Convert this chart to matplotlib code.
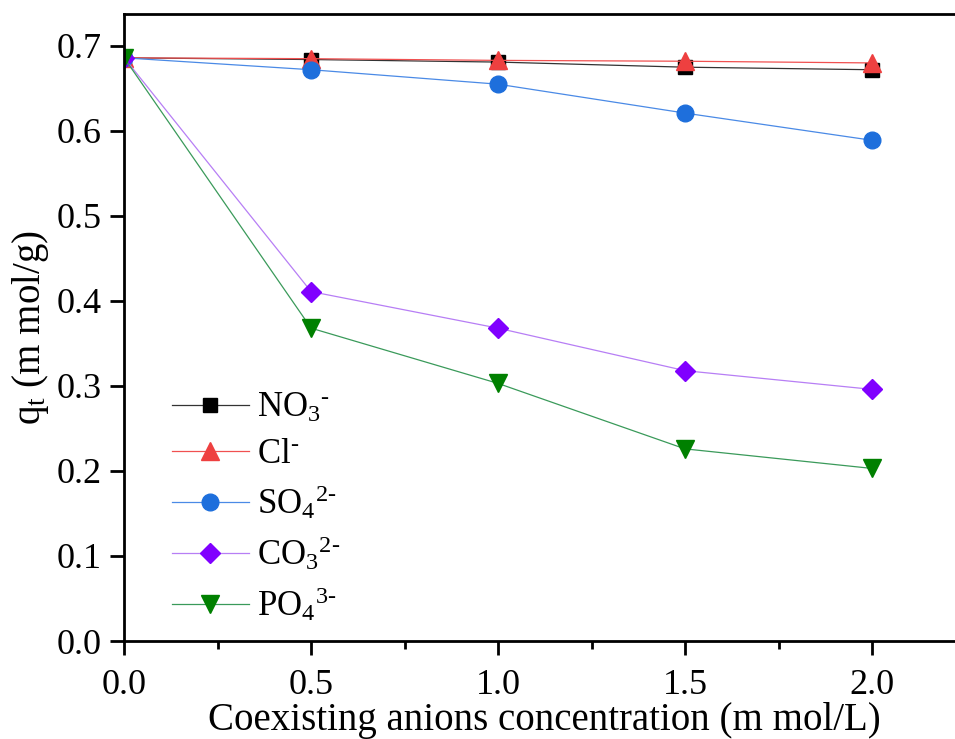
import matplotlib
matplotlib.use('Agg')
import matplotlib.pyplot as plt
from matplotlib.ticker import MultipleLocator

plt.rcParams['font.family'] = 'Liberation Serif'
plt.rcParams['mathtext.fontset'] = 'custom'
plt.rcParams['mathtext.rm'] = 'Liberation Serif'
plt.rcParams['mathtext.it'] = 'Liberation Serif'

conc = [0.0, 0.5, 1.0, 1.5, 2.0]
no3 = [0.686, 0.684, 0.681, 0.675, 0.672]
cl = [0.686, 0.685, 0.683, 0.682, 0.680]
so4 = [0.686, 0.672, 0.655, 0.621, 0.589]
co3 = [0.686, 0.411, 0.368, 0.318, 0.296]
po4 = [0.686, 0.368, 0.303, 0.226, 0.203]

labels = [r'NO$_3$$^{\text{-}}$', r'Cl$^{\text{-}}$', r'SO$_4$$^{\text{2-}}$',
          r'CO$_3$$^{\text{2-}}$', r'PO$_4$$^{\text{3-}}$']
colors = ['black', '#EE4040', '#1E6FDC', '#8000FF', '#008000']
lcolors = ['#333333', '#F05050', '#4A8AE6', '#B77EF5', '#3A9A5A']
markers = ['s', '^', 'o', 'D', 'v']
msizes = [10, 13, 12, 10, 13]

fig = plt.figure(figsize=(9.55, 7.39), dpi=100)
ax = fig.add_axes([0.13, 0.1326, 0.881, 0.8485])

for ys, lab, c, lc, m, ms in zip([no3, cl, so4, co3, po4], labels, colors, lcolors, markers, msizes):
    ax.plot(conc, ys, color=lc, lw=0.9, marker=m, ms=ms, mfc=c, mec=c, label=lab)

ax.set_xlim(0, 2.25)
ax.set_ylim(0, 0.7376)
ax.xaxis.set_major_locator(MultipleLocator(0.5))
ax.xaxis.set_minor_locator(MultipleLocator(0.25))
ax.yaxis.set_major_locator(MultipleLocator(0.1))
ax.xaxis.set_major_formatter(plt.FuncFormatter(lambda v, p: f'{v:.1f}'))
ax.yaxis.set_major_formatter(plt.FuncFormatter(lambda v, p: f'{v:.1f}'))
ax.tick_params(axis='both', which='major', direction='out', length=10, width=2, labelsize=26)
ax.tick_params(axis='x', which='major', pad=10)
ax.tick_params(axis='y', which='major', pad=6)
ax.tick_params(axis='x', which='minor', direction='out', length=6, width=2)
for s in ax.spines.values():
    s.set_linewidth(2)

ax.set_xlabel('Coexisting anions concentration (m mol/L)', fontsize=28, labelpad=0)
ax.set_ylabel(r'q$_\mathrm{t}$ (m mol/g)', fontsize=28, labelpad=4)

ax.legend(loc='upper left', bbox_to_anchor=(0.02, 0.447), frameon=False, fontsize=25,
          handlelength=2.2, labelspacing=0.38, handletextpad=0.25)

fig.savefig('out.png', dpi=100)
